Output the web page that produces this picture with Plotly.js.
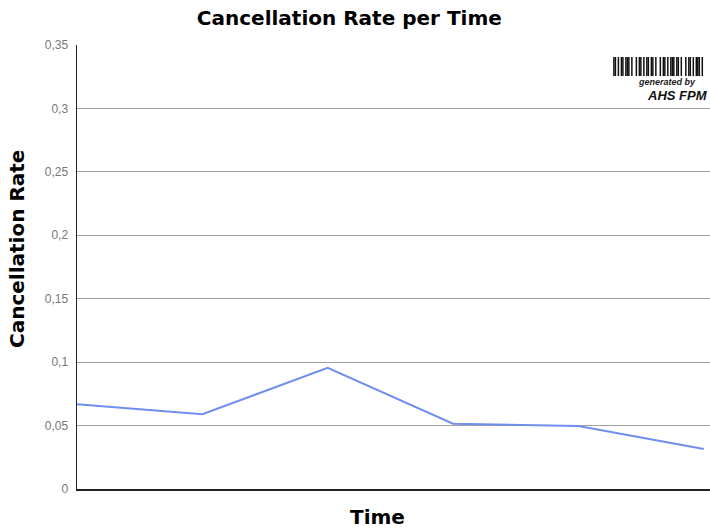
<!DOCTYPE html>
<html>
<head>
<meta charset="utf-8">
<script src="https://cdn.plot.ly/plotly-3.0.1.min.js"></script>
<style>html,body{margin:0;padding:0;background:#fff;}#chart{width:710px;height:529px;}</style>
</head>
<body>
<div id="chart"></div>
<script>
const periods = [0, 1, 2, 3, 4, 5];
const cancellationRate = [0.0668, 0.0590, 0.0955, 0.0515, 0.0497, 0.0315];
const yTicks = [0, 0.05, 0.1, 0.15, 0.2, 0.25, 0.3, 0.35];
const yTickLabels = ["0", "0,05", "0,1", "0,15", "0,2", "0,25", "0,3", "0,35"];
// decorative watermark barcode pattern (1 = dark bar)
const barcodePattern = "110101101110100101101011011010010110101110110100101101011101";

const trace = {
  x: periods,
  y: cancellationRate,
  type: 'scatter',
  mode: 'lines',
  line: {color: '#6f8ef0', width: 2},
  hoverinfo: 'skip'
};

const bx0 = 0.847, bx1 = 0.989, by0 = 0.93, by1 = 0.973;
const shapes = [];
const n = barcodePattern.length;
for (let i = 0; i < n; i++) {
  if (barcodePattern[i] === '1') {
    shapes.push({type: 'rect', xref: 'paper', yref: 'paper',
      x0: bx0 + (bx1 - bx0) * i / n, x1: bx0 + (bx1 - bx0) * (i + 1) / n,
      y0: by0, y1: by1, line: {width: 0}, fillcolor: '#111', layer: 'above'});
  }
}

const titleFont = 'DejaVu Sans, Arial, sans-serif';
const layout = {
  width: 710, height: 529,
  margin: {l: 77, r: 0, t: 45, b: 40},
  paper_bgcolor: '#fff', plot_bgcolor: '#fff',
  showlegend: false,
  font: {family: 'Liberation Sans, Arial, sans-serif'},
  title: {text: '<b>Cancellation Rate per Time</b>', x: 0.492, xanchor: 'center', y: 0.966, yanchor: 'middle',
          font: {size: 20, color: '#000', family: titleFont}},
  xaxis: {
    range: [0, 5.05], showticklabels: false, ticks: '', showgrid: false, zeroline: false,
    showline: true, linecolor: '#222', linewidth: 1.5
  },
  yaxis: {
    range: [0, 0.35], tickvals: yTicks, ticktext: yTickLabels, ticks: '',
    tickfont: {size: 12, color: '#777'}, ticklabelstandoff: 5,
    showgrid: true, gridcolor: '#a0a0a0', gridwidth: 1, zeroline: false,
    showline: true, linecolor: '#222', linewidth: 1.5
  },
  shapes: shapes,
  annotations: [
    {xref: 'paper', yref: 'paper', x: 0.4755, y: -0.063, xanchor: 'center', yanchor: 'middle', showarrow: false,
     text: '<b>Time</b>', font: {size: 20, color: '#000', family: titleFont}},
    {xref: 'paper', yref: 'paper', x: -0.0948, y: 0.5405, xanchor: 'center', yanchor: 'middle', showarrow: false,
     textangle: -90, text: '<b>Cancellation Rate</b>', font: {size: 20, color: '#000', family: titleFont}},
    {xref: 'paper', yref: 'paper', x: 0.981, y: 0.917, xanchor: 'right', yanchor: 'middle', showarrow: false,
     text: '<b><i>generated by</i></b>', font: {size: 9, color: '#222'}},
    {xref: 'paper', yref: 'paper', x: 1.0, y: 0.886, xanchor: 'right', yanchor: 'middle', showarrow: false,
     text: '<b><i>AHS FPM</i></b>', font: {size: 13, color: '#111'}}
  ]
};

Plotly.newPlot('chart', [trace], layout, {displayModeBar: false, staticPlot: true});
</script>
</body>
</html>
